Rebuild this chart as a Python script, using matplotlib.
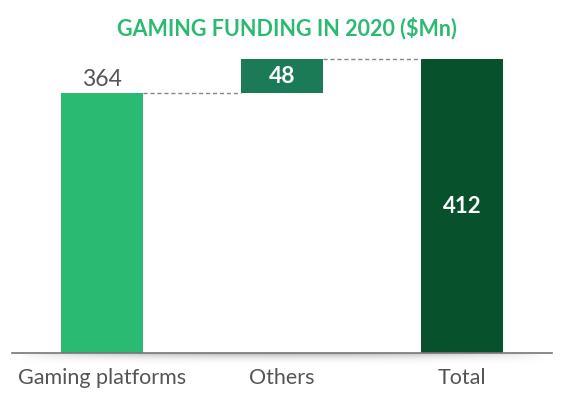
import matplotlib.pyplot as plt
import numpy as np

plt.rcParams['font.family'] = ['Lato', 'DejaVu Sans']

categories = ['Gaming platforms', 'Others', 'Total']
values = [364, 48, 412]
bottoms = [0, 364, 0]
colors = ['#2bba72', '#1b7b57', '#07522d']

fig = plt.figure(figsize=(5.62, 3.98), dpi=100)

# soft shadow under the baseline
sh = fig.add_axes([20 / 562, 33 / 398, 524 / 562, 12 / 398])
gx = np.linspace(-1, 1, 200)
gy = np.linspace(0, 1, 30)
shade = (1 - gx[None, :] ** 2) ** 0.5 * (1 - gy[:, None]) ** 1.6 * 0.4
sh.imshow(shade, cmap='Greys', vmin=0, vmax=1, aspect='auto', interpolation='bilinear')
sh.axis('off')

ax = fig.add_axes([12 / 562, 45 / 398, 540 / 562, 294 / 398])
ax.patch.set_alpha(0)

x = np.arange(len(categories))
ax.bar(x, values, bottom=bottoms, width=0.46, color=colors, zorder=2)
ax.set_xlim(-0.5, 2.5)
ax.set_ylim(0, 412)

# connectors
ax.plot([0.23, 0.77], [364, 364], ls=(0, (3, 2)), color='#888888', lw=1, clip_on=False)
ax.plot([1.23, 1.77], [412, 412], ls=(0, (3, 2)), color='#888888', lw=1, clip_on=False)

# value labels
ax.text(0, 364 + 5, '364', ha='center', va='bottom', fontsize=16.5, color='#555555')
ax.text(1, 364 + 24, '48', ha='center', va='center', fontsize=16.5, color='white', fontweight='bold')
ax.text(2, 206, '412', ha='center', va='center', fontsize=16, color='white', fontweight='bold')

for s in ax.spines.values():
    s.set_visible(False)
ax.set_yticks([])
ax.set_xticks(x)
ax.set_xticklabels(categories, fontsize=15.5, color='#555555')
ax.tick_params(axis='x', length=0, pad=11)

ax.axhline(0, color='#777777', lw=1.2, zorder=3, clip_on=False)

fig.text(287 / 562, 1 - 28 / 398, 'GAMING FUNDING IN 2020 ($Mn)', ha='center', va='center',
         fontsize=15.5, fontweight='bold', color='#2bba72')

fig.savefig('out.png', dpi=100)
